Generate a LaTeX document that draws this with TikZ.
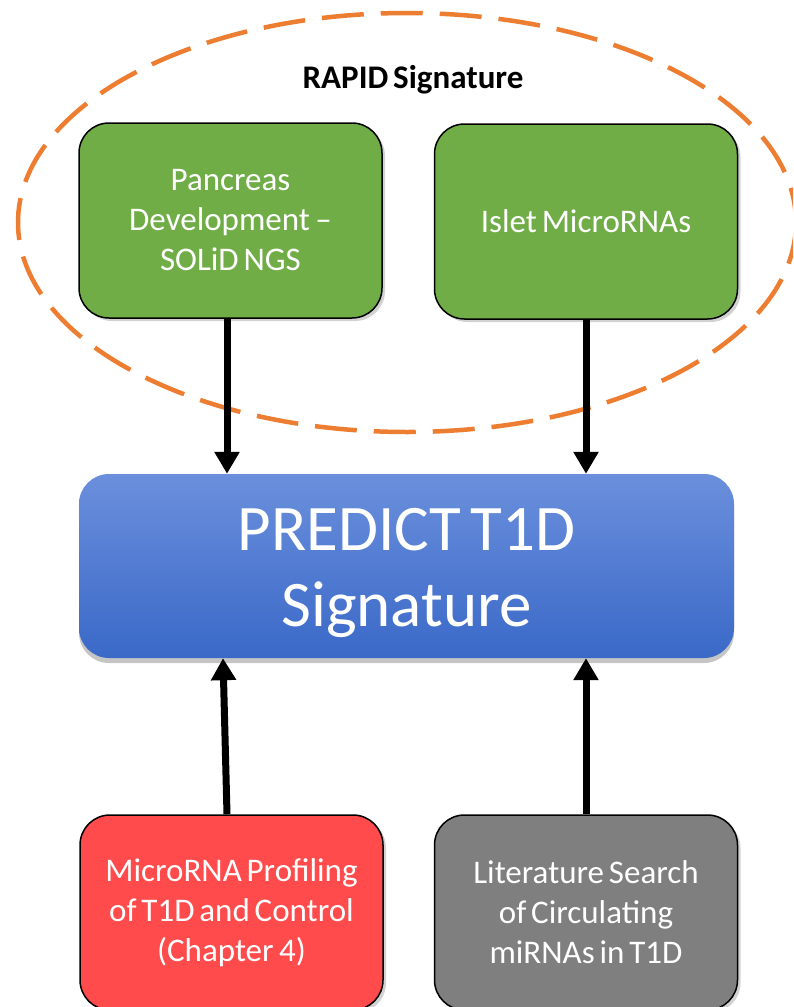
\documentclass[tikz,border=0pt]{standalone}
\usepackage{fontspec}
\setmainfont{Carlito}[WordSpace=0.65]
\usetikzlibrary{shadows,arrows.meta}
\definecolor{ellorange}{HTML}{ED7D31}
\definecolor{boxgreen}{HTML}{70AD47}
\definecolor{boxred}{HTML}{FF4B4B}
\definecolor{boxgray}{HTML}{7F7F7F}
\definecolor{bluetop}{HTML}{6B8FDC}
\definecolor{bluebot}{HTML}{3A69C8}
\tikzset{
  srcbox/.style={draw=black, line width=1.5pt, rounded corners=30pt,
    minimum width=303pt, minimum height=195pt, align=center,
    text=white, font=\fontsize{33}{40}\selectfont,
    drop shadow={shadow xshift=3pt, shadow yshift=-3pt, opacity=0.35}},
  bigbox/.style={rounded corners=30pt, minimum width=655pt, minimum height=184pt,
    top color=bluetop, bottom color=bluebot,
    drop shadow={shadow xshift=0pt, shadow yshift=-5pt, opacity=0.45}},
  biglabel/.style={text=white, align=center, font=\fontsize{65}{76}\selectfont},
  arr/.style={line width=7pt, -{Triangle[length=22pt,width=24pt]}},
}
\begin{document}
\begin{tikzpicture}[x=1pt,y=-1pt]
\clip (0,0) rectangle (793,1007);
\useasboundingbox (0,0) rectangle (793,1007);
\fill[white] (0,0) rectangle (793,1007);
% dashed ellipse
\draw[ellorange, line width=4.5pt, dash pattern=on 42pt off 17pt] (407,222.5) ellipse [x radius=389, y radius=209.5];
\node[font=\fontsize{33}{38}\selectfont\bfseries] (title) at (413,80) {RAPID Signature};
% boxes
\node[srcbox, fill=boxgreen] (panc) at (230.5,220.5) {Pancreas\\Development\,--\\SOLiD NGS};
\node[srcbox, fill=boxgreen] (islet) at (586,221.5) {Islet MicroRNAs};
\node[bigbox] (pred) at (406.5,566) {};
\node[biglabel] (predlbl) at ([yshift=-7pt]pred.center) {PREDICT T1D\\Signature};
\node[srcbox, fill=boxred] (prof) at (231.5,912.5) {MicroRNA Profiling\\of T1D and Control\\(Chapter\,4)};
\node[srcbox, fill=boxgray] (lit) at (586,912.5) {Literature Search\\of Circulating\\miRNAs in T1D};
% arrows
\draw[arr] ([xshift=-3.5pt]panc.south) -- ([xshift=-179.5pt]pred.north);
\draw[arr] (islet.south) -- ([xshift=179.5pt]pred.north);
\draw[arr] ([xshift=-4.5pt]prof.north) -- ([xshift=-183.5pt]pred.south);
\draw[arr] (lit.north) -- ([xshift=179.5pt]pred.south);
\end{tikzpicture}
\end{document}
